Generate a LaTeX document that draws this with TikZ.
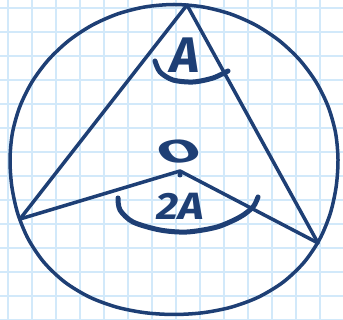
\documentclass[tikz,border=0pt]{standalone}
\usepackage{fontspec}
\newfontfamily\hand{Fira Sans}
\definecolor{ink}{RGB}{30,63,117}
\definecolor{gridc}{RGB}{210,233,250}
\begin{document}
\begin{tikzpicture}[x=1pt,y=-1pt,
  edge/.style={ink,line width=3.5pt,line join=round,line cap=round},
  anglearc/.style={ink,line width=5pt,line cap=round,line join=round},
  lbl/.style={text=ink,inner sep=0pt}]
\fill[white] (0,0) rectangle (343,320);
\useasboundingbox (0,0) rectangle (343,320);
\foreach \i in {0,...,14} \draw[gridc,line width=1.5pt] ({8+24*\i},0) -- ({8+24*\i},320);
\foreach \i in {0,...,13} \draw[gridc,line width=1.5pt] (0,{8+24*\i}) -- (343,{8+24*\i});
% circle (hand-drawn, slightly bulging below)
\draw[edge] plot[smooth cycle,domain=0:350,samples=36,variable=\t]
  ({174+164*cos(\t)*(1+(\t>180)*0.035*sin(2*\t)^2)},
   {159.5-155*sin(\t)*(1+(\t>180)*0.035*sin(2*\t)^2)});
% vertices
\coordinate (T) at (187,5);
\coordinate (L) at (20,219);
\coordinate (R) at (318,243);
\coordinate (O) at (180,171);
\draw[edge] (L) -- (T) -- (R);
\draw[edge] (L) -- (O) -- (R);
\fill[ink] (180,175) circle (2.5);
% angle arcs
\draw[anglearc] plot[smooth] coordinates {(155,61) (160,72) (173,80) (193,82) (213,78) (228,71)};
\draw[anglearc] plot[smooth] coordinates {(118,198) (120,210) (133,222) (160,230) (187,232) (217,227) (240,217) (253,207) (258,197)};
% labels
\node[lbl,font=\hand\bfseries\itshape\fontsize{50}{50}\selectfont] (la) at (185,55) {A};
\node[lbl,font=\hand\bfseries\itshape\fontsize{38}{38}\selectfont,xscale=1.15] (l2a) at (180,206) {2A};
\node[lbl,font=\hand\bfseries\fontsize{32}{32}\selectfont,xscale=1.9,rotate=18] (lo) at (179,152) {O};
\end{tikzpicture}
\end{document}
